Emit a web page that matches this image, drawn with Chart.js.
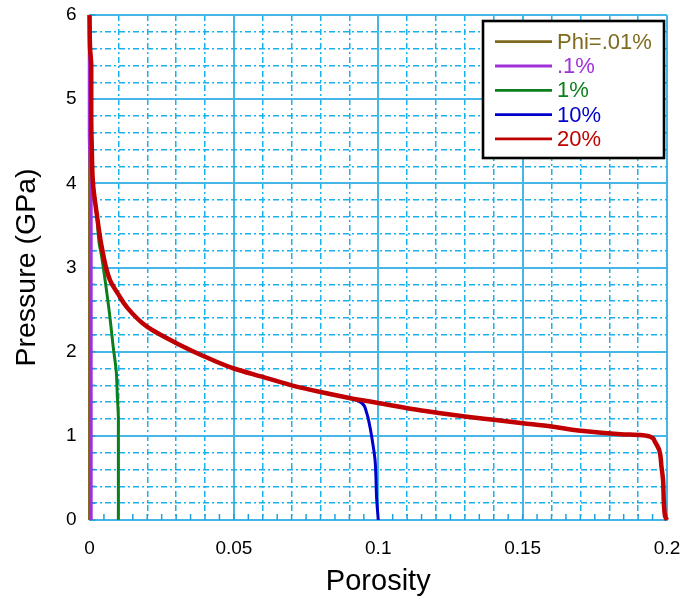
<!DOCTYPE html>
<html><head><meta charset="utf-8">
<script src="https://cdn.jsdelivr.net/npm/chart.js@4.4.0/dist/chart.umd.min.js"></script>
<style>html,body{margin:0;padding:0;background:#fff;} canvas{display:block;}</style>
</head><body>
<canvas id="c" width="681" height="605"></canvas>
<script>
const seriesLabels = ['Phi=.01%', '.1%', '1%', '10%', '20%'];
const seriesColors = ['#7f6a1e', '#a030d8', '#0b7f1b', '#0000cc', '#c00000'];
const seriesWidths = [3, 3.5, 3, 3, 4.5];

// shared upper (compaction) branch (pressure decreasing)
const commonPorosity = [0.0000, 0.0002, 0.0006, 0.0006, 0.0008, 0.0012, 0.0025, 0.0042, 0.0071, 0.0100, 0.0129, 0.0198, 0.0313, 0.0400, 0.0500, 0.0600, 0.0700, 0.0800, 0.0900];
const commonPressure = [6.00, 5.60, 5.40, 4.80, 4.40, 4.00, 3.64, 3.25, 2.85, 2.68, 2.53, 2.30, 2.08, 1.94, 1.80, 1.70, 1.60, 1.52, 1.45];

// own branches (pressure increasing)
const phi001Porosity = [0.0000, 0.0000, 0.0000];
const phi001Pressure = [0.00, 3.00, 6.00];
const phi01Porosity = [0.0005, 0.0005, 0.0002, 0.0000, 0.0000];
const phi01Pressure = [0.00, 3.90, 4.30, 4.60, 6.00];
const phi1Porosity = [0.0100, 0.0100, 0.0096, 0.0093, 0.0082, 0.0069, 0.0054, 0.0042, 0.0033];
const phi1Pressure = [0.00, 1.19, 1.50, 1.75, 2.06, 2.46, 2.85, 3.13, 3.30];
const phi10Porosity = [0.1000, 0.0994, 0.0992, 0.0989, 0.0981, 0.0971, 0.0960, 0.0943, 0.0919];
const phi10Pressure = [0.00, 0.28, 0.51, 0.71, 0.91, 1.11, 1.27, 1.39, 1.43];
const phi20Porosity = [0.2000, 0.1993, 0.1987, 0.1981, 0.1973, 0.1958, 0.1941, 0.1906, 0.1840, 0.1700, 0.1600, 0.1500, 0.1400, 0.1300, 0.1150, 0.1000];
const phi20Pressure = [0.00, 0.05, 0.44, 0.63, 0.83, 0.93, 0.99, 1.01, 1.02, 1.06, 1.11, 1.15, 1.19, 1.23, 1.30, 1.39];

const xTickLabels = ['0', '0.05', '0.1', '0.15', '0.2'];
const yTickLabels = ['0', '1', '2', '3', '4', '5', '6'];

function branch(px, py, joinCommon) {
  const pts = px.map((x, i) => ({x: x, y: py[i]}));
  if (joinCommon) {
    const endX = px[px.length - 1];
    for (let i = commonPorosity.length - 1; i >= 0; i--) {
      if (commonPorosity[i] < endX) pts.push({x: commonPorosity[i], y: commonPressure[i]});
    }
  }
  return pts;
}
const seriesData = [
  branch(phi001Porosity, phi001Pressure, false),
  branch(phi01Porosity, phi01Pressure, false),
  branch(phi1Porosity, phi1Pressure, true),
  branch(phi10Porosity, phi10Pressure, true),
  branch(phi20Porosity, phi20Pressure, true)
];

const FONT = "Arial, 'Liberation Sans', sans-serif";
const SOLID = 'rgb(70,182,230)';
const DASHC = 'rgb(25,178,238)';
const DASH = [6, 3, 2, 3];
const NOCOLOR = 'rgba(0,0,0,0)';

function kind(v, majorStep, gridStep) {
  const near = (s) => Math.abs(v / s - Math.round(v / s)) < 1e-6;
  if (near(majorStep)) return 'major';
  if (near(gridStep)) return 'minor';
  return 'none';
}
const xKind = (v) => kind(v, 0.05, 0.01);
const yKind = (v) => kind(v, 1, 0.2);

const insideTicks = {
  id: 'insideTicks',
  beforeDatasetsDraw(chart) {
    const {ctx, scales: {x, y}, chartArea: ca} = chart;
    ctx.save();
    ctx.strokeStyle = 'rgb(30,160,220)';
    ctx.lineWidth = 1.5;
    x.ticks.forEach(t => {
      const p = x.getPixelForValue(t.value);
      ctx.beginPath(); ctx.moveTo(p, ca.bottom); ctx.lineTo(p, ca.bottom - 6); ctx.stroke();
    });
    y.ticks.forEach(t => {
      const p = y.getPixelForValue(t.value);
      ctx.beginPath(); ctx.moveTo(ca.left, p); ctx.lineTo(ca.left + 6, p); ctx.stroke();
    });
    ctx.restore();
  }
};

const boxLegend = {
  id: 'boxLegend',
  afterDraw(chart) {
    const {ctx, chartArea: ca} = chart;
    const L = ca.right - 184, T = ca.top + 6, W = 181, H = 137;
    ctx.save();
    ctx.fillStyle = '#fff';
    ctx.fillRect(L, T, W, H);
    ctx.lineWidth = 2.6;
    ctx.strokeStyle = '#000';
    ctx.strokeRect(L, T, W, H);
    ctx.font = '22px ' + FONT;
    ctx.textBaseline = 'middle';
    chart.data.datasets.forEach((ds, i) => {
      const yy = T + 20.7 + i * 24.3;
      ctx.strokeStyle = ds.borderColor;
      ctx.lineWidth = 2.8;
      ctx.beginPath(); ctx.moveTo(L + 12, yy); ctx.lineTo(L + 69, yy); ctx.stroke();
      ctx.fillStyle = ds.borderColor;
      ctx.fillText(ds.label, L + 74, yy + 1);
    });
    ctx.restore();
  }
};

new Chart(document.getElementById('c'), {
  type: 'scatter',
  data: {
    datasets: seriesLabels.map((lab, i) => ({
      label: lab,
      data: seriesData[i],
      showLine: true,
      indexAxis: 'y',
      cubicInterpolationMode: 'monotone',
      borderColor: seriesColors[i],
      backgroundColor: seriesColors[i],
      borderWidth: seriesWidths[i],
      pointRadius: 0,
      pointHoverRadius: 0,
      fill: false,
      clip: 4,
      order: seriesLabels.length - 1 - i
    }))
  },
  options: {
    responsive: false,
    animation: false,
    layout: {padding: {top: 15, right: 14, left: 0, bottom: 0}},
    plugins: {legend: {display: false}, tooltip: {enabled: false}},
    scales: {
      x: {
        type: 'linear', min: 0, max: 0.2,
        afterFit: (s) => { s.height = 85; },
        ticks: {
          stepSize: 0.005, autoSkip: false, maxRotation: 0, padding: 0,
          color: '#000', font: {family: FONT, size: 19},
          callback: (v) => {
            const i = Math.round(v / 0.05);
            return Math.abs(v - i * 0.05) < 1e-9 ? xTickLabels[i] : '';
          }
        },
        grid: {
          drawTicks: true, tickLength: 17, tickColor: NOCOLOR,
          color: (c) => c.tick ? (xKind(c.tick.value) === 'major' ? SOLID : DASHC) : SOLID,
          lineWidth: (c) => {
            if (!c.tick) return 2;
            const k = xKind(c.tick.value);
            return k === 'major' ? 2 : (k === 'minor' ? 1.5 : 0);
          }
        },
        border: {
          color: SOLID, width: 2,
          dash: (c) => (c.tick && xKind(c.tick.value) === 'minor') ? DASH : []
        },
        title: {display: true, text: 'Porosity', color: '#000',
          font: {family: FONT, size: 29}, padding: {top: 0, bottom: 6}}
      },
      y: {
        type: 'linear', min: 0, max: 6,
        afterFit: (s) => { s.width = 89.5; },
        ticks: {
          stepSize: 0.2, autoSkip: false, padding: 0,
          color: '#000', font: {family: FONT, size: 19},
          callback: (v) => {
            const i = Math.round(v);
            return Math.abs(v - i) < 1e-9 ? yTickLabels[i] : '';
          }
        },
        grid: {
          drawTicks: true, tickLength: 13, tickColor: NOCOLOR,
          color: (c) => c.tick ? (yKind(c.tick.value) === 'major' ? SOLID : DASHC) : SOLID,
          lineWidth: (c) => {
            if (!c.tick) return 2;
            return yKind(c.tick.value) === 'major' ? 2 : 1.5;
          }
        },
        border: {
          color: SOLID, width: 2,
          dash: (c) => (c.tick && yKind(c.tick.value) === 'minor') ? DASH : []
        },
        title: {display: true, text: 'Pressure (GPa)', color: '#000',
          font: {family: FONT, size: 28.5}, padding: {top: 10, bottom: 0}}
      }
    }
  },
  plugins: [insideTicks, boxLegend]
});
</script>
</body></html>
